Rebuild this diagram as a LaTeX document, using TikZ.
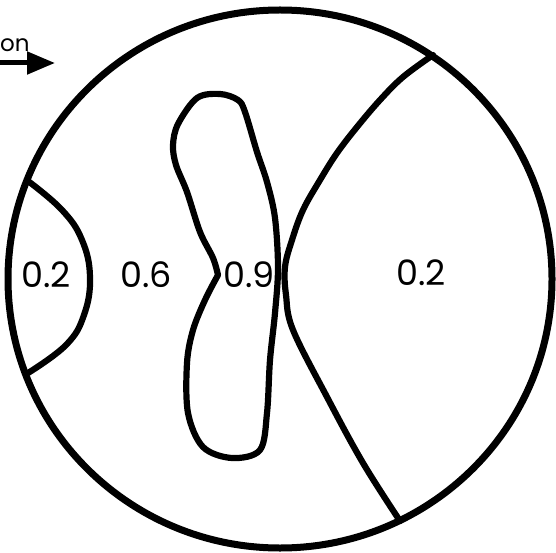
\documentclass[tikz,border=0pt]{standalone}
\usepackage{fontspec}
\setmainfont{Poppins}
\usetikzlibrary{arrows.meta}
\tikzset{
  outline/.style={line width=6.2pt, line join=round, line cap=round},
  lbl/.style={font=\fontsize{35}{36}\selectfont, inner sep=0pt},
}
\begin{document}
\begin{tikzpicture}[x=1pt,y=-1pt]
\useasboundingbox (0,0) rectangle (556,553);
% outer circle
\draw[outline, line width=7pt] (280,279) ellipse [x radius=272, y radius=269];
% left region boundary
\draw[outline] plot[smooth, tension=0.7] coordinates {(28,181) (62,210) (82,240) (90,277) (84,315) (66,345) (28,373)};
% right region boundary
\draw[outline] plot[smooth, tension=0.6] coordinates {(433,55) (403,77) (380,100) (357,127) (337,153) (320,180) (303,210) (292,240) (285,267) (286,295) (293,330) (327,397) (363,463) (400,521)};
% peanut-shaped contour
\draw[outline] plot[smooth, tension=0.55] coordinates {(218,275) (205,300) (193,330) (187,363) (188,413) (203,447) (232,458) (260,450) (267,413) (270,360) (275,313) (278,268) (275,218) (267,182) (257,152) (245,112) (238,100) (220,94) (197,98) (178,124) (173,145) (176,165) (187,192) (200,232) (213,258) (218,275)};
% labels
\node[lbl] (l1) at (46,275) {0.2};
\node[lbl] (l2) at (146,275) {0.6};
\node[lbl] (l3) at (249,275) {0.9};
\node[lbl] (l4) at (421,273) {0.2};
% direction arrow
\node[lbl, anchor=base west, font=\fontsize{23}{24}\selectfont] (dir) at (0,52) {on};
\coordinate (a0) at (0,63);
\coordinate (a1) at (55,63);
\draw[line width=5pt, -{Triangle[length=28pt,width=22pt]}] (a0) -- (a1);
\end{tikzpicture}
\end{document}
